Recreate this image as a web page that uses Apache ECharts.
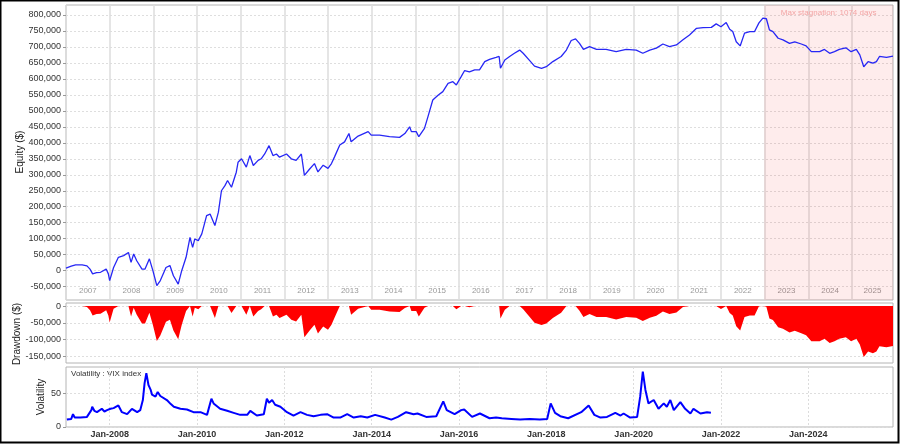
<!DOCTYPE html>
<html><head><meta charset="utf-8">
<script src="https://cdn.jsdelivr.net/npm/echarts@6/dist/echarts.min.js"></script>
<style>html,body{margin:0;padding:0;background:#fff}#c{width:900px;height:444px}</style>
</head><body><div id="c"></div>
<script>
// Equity curve: decimal year -> equity ($)
const equityYears = [
2007.00,2007.03,2007.12,2007.22,2007.37,2007.48,2007.55,2007.61,2007.70,2007.79,2007.92,2007.97,
2008.00,2008.09,2008.20,2008.32,2008.43,2008.49,2008.55,2008.62,2008.74,2008.81,2008.91,2008.99,
2009.08,2009.16,2009.29,2009.38,2009.46,2009.57,2009.65,2009.75,2009.84,2009.90,2009.95,
2010.03,2010.11,2010.22,2010.30,2010.41,2010.49,2010.56,2010.64,2010.70,2010.79,2010.90,2010.94,
2011.02,2011.13,2011.21,2011.29,2011.40,2011.47,2011.55,2011.65,2011.74,2011.82,2011.89,
2012.05,2012.16,2012.27,2012.39,2012.46,2012.58,2012.69,2012.77,2012.89,
2013.00,2013.08,2013.15,2013.27,2013.38,2013.48,2013.53,2013.69,2013.92,2013.99,
2014.18,2014.41,2014.64,2014.76,2014.87,2014.91,
2015.02,2015.08,2015.21,2015.29,2015.40,2015.52,2015.63,2015.75,2015.86,2015.94,
2016.05,2016.13,2016.24,2016.36,2016.47,2016.59,2016.70,2016.85,2016.92,2016.95,
2017.05,2017.16,2017.27,2017.39,2017.47,2017.62,2017.73,2017.89,
2018.00,2018.15,2018.34,2018.46,2018.57,2018.67,2018.76,2018.85,2018.99,
2019.15,2019.37,2019.60,2019.83,
2020.06,2020.21,2020.37,2020.52,2020.67,2020.82,2020.98,
2021.13,2021.28,2021.44,2021.59,2021.78,2021.89,
2022.00,2022.12,2022.20,2022.27,2022.35,2022.44,2022.54,2022.66,2022.77,2022.87,2022.96,
2023.04,2023.11,2023.19,2023.31,2023.42,2023.57,2023.69,2023.84,2023.95,
2024.07,2024.26,2024.37,2024.49,2024.60,2024.71,2024.86,2024.98,
2025.10,2025.18,2025.27,2025.37,2025.48,2025.56,2025.63,2025.79,2025.94
];
const equityValues = [
8000,10000,14000,18000,18000,15000,5000,-10000,-6000,-5000,5000,-10000,
-31000,10000,42000,47000,57000,26000,52000,31000,5000,5000,37000,0,
-47000,-31000,10000,16000,-16000,-42000,0,42000,104000,73000,99000,
94000,115000,172000,177000,141000,183000,250000,266000,282000,261000,308000,339000,
350000,324000,360000,329000,345000,350000,365000,391000,360000,365000,355000,
365000,350000,345000,365000,298000,318000,335000,309000,330000,
320000,335000,356000,393000,403000,429000,403000,421000,435000,424000,
424000,419000,417000,429000,450000,435000,
435000,419000,445000,482000,534000,549000,560000,586000,591000,581000,
607000,626000,622000,628000,628000,654000,661000,667000,670000,633000,
659000,670000,680000,690000,680000,657000,640000,633000,
638000,654000,670000,690000,720000,725000,711000,692000,701000,
692000,692000,685000,692000,
690000,680000,690000,696000,709000,701000,706000,
722000,737000,758000,760000,761000,772000,
763000,776000,755000,748000,716000,703000,743000,748000,748000,775000,790000,
788000,753000,748000,727000,722000,711000,716000,709000,703000,
685000,685000,692000,680000,685000,692000,697000,685000,
692000,675000,638000,654000,649000,654000,670000,667000,671000
];
// VIX index: decimal year -> level
const vixYears = [
2007.02,2007.12,2007.16,2007.20,2007.33,2007.48,2007.58,2007.60,2007.65,2007.71,2007.82,2007.88,2007.94,
2008.02,2008.09,2008.20,2008.28,2008.40,2008.51,2008.63,2008.70,2008.76,2008.80,2008.84,2008.89,2008.94,2008.97,
2009.05,2009.10,2009.16,2009.31,2009.40,2009.47,2009.62,2009.77,2009.92,
2010.08,2010.23,2010.33,2010.38,2010.42,2010.53,2010.69,2010.84,2010.99,
2011.15,2011.22,2011.37,2011.53,2011.60,2011.65,2011.72,2011.79,2011.91,
2012.06,2012.21,2012.37,2012.52,2012.67,2012.83,2012.98,
2013.13,2013.28,2013.44,2013.59,2013.75,2013.90,
2014.08,2014.30,2014.45,2014.60,2014.79,2014.96,
2015.05,2015.25,2015.48,2015.64,2015.72,2015.90,
2016.05,2016.12,2016.30,2016.48,2016.70,2016.85,2016.98,
2017.20,2017.40,2017.62,2017.85,
2018.02,2018.10,2018.20,2018.32,2018.50,2018.80,2018.97,
2019.10,2019.24,2019.39,2019.58,2019.70,2019.77,2019.92,
2020.08,2020.15,2020.21,2020.27,2020.34,2020.46,2020.57,2020.69,2020.76,2020.84,2020.92,
2021.07,2021.18,2021.30,2021.37,2021.53,2021.68,2021.77
];
const vixValues = [
11,12,19,14,14,15,25,30,24,22,27,23,25,
27,28,32,22,19,27,22,25,40,65,80,62,55,48,
45,52,46,40,34,30,27,26,22,
22,18,42,35,34,27,24,21,18,
18,24,17,19,42,36,40,33,30,
22,17,22,18,16,18,19,
14,14,19,14,16,14,
18,14,11,15,22,19,
20,15,16,38,25,19,
25,26,15,20,13,14,13,
12,11,12,11,
12,35,21,16,13,22,32,
18,14,15,21,17,20,14,
15,45,82,55,35,40,27,35,30,40,25,
37,27,20,27,20,22,21
];
// tick values / labels
const yearBoundaries = [2007,2008,2009,2010,2011,2012,2013,2014,2015,2016,2017,2018,2019,2020,2021,2022,2023,2024,2025];
const yearLabelPositions = [2007.5,2008.5,2009.5,2010.5,2011.5,2012.5,2013.5,2014.5,2015.5,2016.5,2017.5,2018.5,2019.5,2020.5,2021.5,2022.5,2023.5,2024.5,2025.47];
const volDateTicks = [2008,2010,2012,2014,2016,2018,2020,2022,2024];
const equityTicks = [-50000,0,50000,100000,150000,200000,250000,300000,350000,400000,450000,500000,550000,600000,650000,700000,750000,800000];
const drawdownTicks = [-150000,-100000,-50000,0];
const volTicks = [0,50];
const stagnationRange = [2022.99, 2025.94];
const stagnationText = 'Max stagnation: 1074 days';
const xStart = 2007, xEnd = 2025.94;

// drawdown derived from equity (equity minus running peak)
let peak = -Infinity;
const drawdownValues = equityValues.map(v => { peak = Math.max(peak, v); return v - peak; });

const FONT = 'Liberation Sans, Arial, sans-serif';
const pair = (xs, ys) => xs.map((x, i) => [x, ys[i]]);
const fmt = v => v.toLocaleString('en-US');

const chart = echarts.init(document.getElementById('c'), null, {renderer: 'canvas'});
const gridBase = {left: 66, right: 7, show: true, borderColor: '#b4b4b4', borderWidth: 1, backgroundColor: '#fff'};
const yLabel = {margin: 5, color: '#333', fontSize: 9, fontFamily: FONT};
const yTick = {show: true, length: 3, lineStyle: {color: '#999'}};
const hSplit = {show: true, lineStyle: {color: '#dedede', type: [2, 2]}};
chart.setOption({
  animation: false,
  backgroundColor: '#fff',
  textStyle: {fontFamily: FONT},
  grid: [
    Object.assign({top: 5, height: 295}, gridBase),
    Object.assign({top: 303, height: 60}, gridBase),
    Object.assign({top: 367, height: 60}, gridBase)
  ],
  xAxis: [
    {gridIndex: 0, type: 'value', min: xStart, max: xEnd,
     axisLine: {show: false},
     axisTick: {show: false, customValues: yearBoundaries},
     axisLabel: {inside: true, margin: 5, color: '#9a9a9a', fontSize: 8, fontFamily: FONT,
       customValues: yearLabelPositions, formatter: v => String(Math.floor(v))},
     splitLine: {show: true, lineStyle: {color: '#dcdcdc', width: 1.5}}},
    {gridIndex: 1, type: 'value', min: xStart, max: xEnd,
     axisLine: {show: false}, axisTick: {show: false, customValues: volDateTicks}, axisLabel: {show: false},
     splitLine: {show: false}},
    {gridIndex: 2, type: 'value', min: xStart, max: xEnd,
     axisLine: {show: false}, axisTick: {show: false, customValues: volDateTicks},
     axisLabel: {margin: 3, color: '#333', fontSize: 9, fontWeight: 'bold', fontFamily: FONT,
       customValues: volDateTicks, formatter: v => 'Jan-' + Math.round(v)},
     splitLine: {show: true, lineStyle: {color: '#dcdcdc', type: [2, 2]}}}
  ],
  yAxis: [
    {gridIndex: 0, type: 'value', min: -91700, max: 831000,
     axisLine: {show: false}, axisTick: Object.assign({customValues: equityTicks}, yTick),
     axisLabel: Object.assign({customValues: equityTicks, formatter: fmt}, yLabel),
     splitLine: hSplit},
    {gridIndex: 1, type: 'value', min: -170000, max: 9000,
     axisLine: {show: false}, axisTick: Object.assign({customValues: drawdownTicks}, yTick),
     axisLabel: Object.assign({customValues: drawdownTicks, formatter: fmt}, yLabel),
     splitLine: hSplit},
    {gridIndex: 2, type: 'value', min: 0, max: 89,
     axisLine: {show: false}, axisTick: Object.assign({customValues: volTicks}, yTick),
     axisLabel: Object.assign({customValues: volTicks, formatter: v => String(v)}, yLabel),
     splitLine: hSplit}
  ],
  graphic: [
    {type: 'text', x: 20, y: 152, rotation: Math.PI / 2,
     style: {text: 'Equity ($)', fontSize: 10, fontFamily: FONT, fill: '#222', align: 'center', verticalAlign: 'middle'}},
    {type: 'text', x: 17.5, y: 334, rotation: Math.PI / 2,
     style: {text: 'Drawdown ($)', fontSize: 10, fontFamily: FONT, fill: '#222', align: 'center', verticalAlign: 'middle'}},
    {type: 'text', x: 41, y: 397, rotation: Math.PI / 2,
     style: {text: 'Volatility', fontSize: 10, fontFamily: FONT, fill: '#222', align: 'center', verticalAlign: 'middle'}},
    {type: 'text', x: 71, y: 370,
     style: {text: 'Volatility : VIX index', fontSize: 8, fontFamily: FONT, fill: '#333', align: 'left', verticalAlign: 'top'}},
    {type: 'rect', shape: {x: 0.5, y: 0.5, width: 898, height: 442}, z: 100,
     style: {fill: 'none', stroke: '#000', lineWidth: 2}}
  ],
  series: [
    {type: 'line', xAxisIndex: 0, yAxisIndex: 0, data: pair(equityYears, equityValues),
     showSymbol: false, lineStyle: {color: '#2727f5', width: 1.3}, z: 3,
     markArea: {silent: true, itemStyle: {color: 'rgba(245,0,0,0.075)'},
       label: {show: true, position: 'insideTop', distance: 4, color: '#f3a5a5', fontSize: 8, fontFamily: FONT},
       data: [[{name: stagnationText, xAxis: stagnationRange[0]}, {xAxis: stagnationRange[1]}]]}},
    {type: 'line', xAxisIndex: 1, yAxisIndex: 1, data: pair(equityYears, drawdownValues),
     showSymbol: false, lineStyle: {width: 0}, areaStyle: {color: '#ff0000', opacity: 1}},
    {type: 'line', xAxisIndex: 2, yAxisIndex: 2, data: pair(vixYears, vixValues),
     showSymbol: false, lineStyle: {color: '#0000ff', width: 2}}
  ]
});
</script></body></html>
